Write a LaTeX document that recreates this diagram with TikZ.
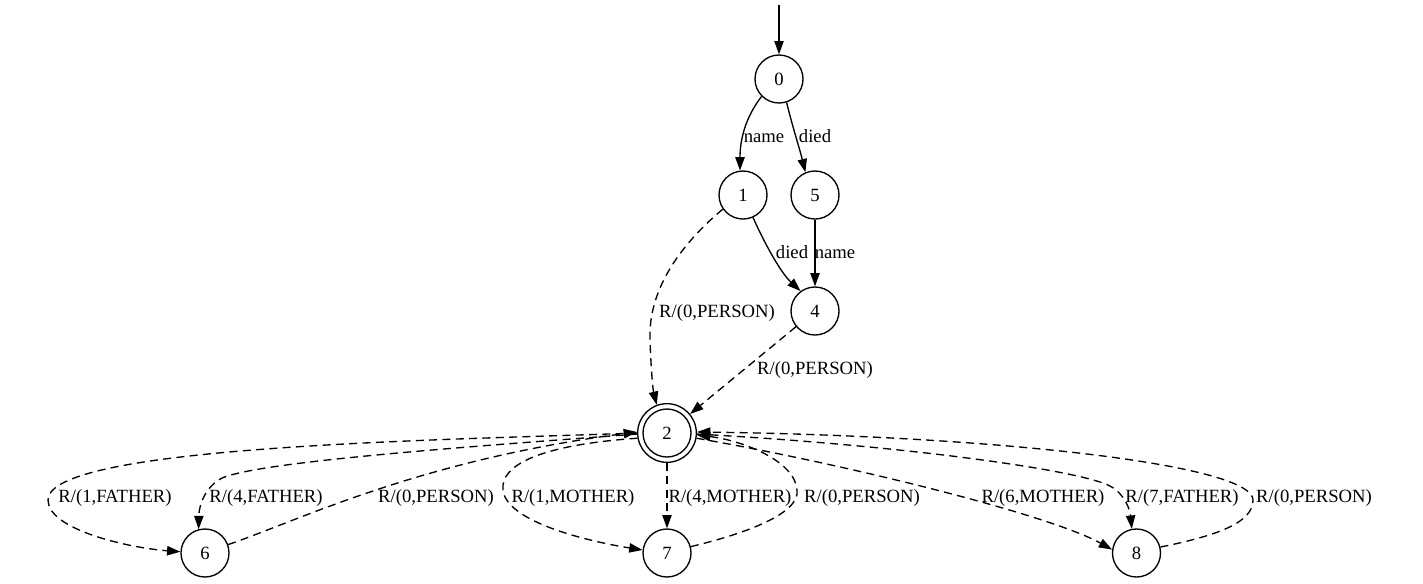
\documentclass[tikz,border=0pt]{standalone}
\usepackage{fontspec}
\setmainfont{Liberation Serif}
\usetikzlibrary{arrows.meta}
\begin{document}
\begin{tikzpicture}[x=0.75pt,y=-0.75pt,
  state/.style={circle,draw,line width=1pt,minimum size=36pt,inner sep=0pt,font=\fontsize{14pt}{16pt}\selectfont},
  accst/.style={state,minimum size=44pt},
  edge/.style={line width=1pt,-{Triangle[length=10pt,width=7pt]}},
  dedge/.style={edge,dash pattern=on 6pt off 4pt},
  lab/.style={inner sep=0pt,anchor=base,font=\fontsize{14pt}{16pt}\selectfont}]
\useasboundingbox (0,0) rectangle (1423,583);
% states
\node[state] (n0) at (779,79) {0};
\node[state] (n1) at (743,195) {1};
\node[state] (n5) at (815,195) {5};
\node[state] (n4) at (815,311) {4};
\node[accst] (n2) at (667,433) {2};
\draw[line width=1pt] (n2.center) circle[radius=18pt];
\node[state] (n6) at (205,553) {6};
\node[state] (n7) at (667,553) {7};
\node[state] (n8) at (1136.5,553) {8};
\coordinate (s) at (779,5);
% solid edges
\draw[edge] (s) -- (n0);
\draw[edge] (n0.225) .. controls (745,118) and (740,140) .. (n1.97);
\draw[edge] (n0.288) .. controls (792,125) and (800,150) .. (n5.113);
\draw[edge] (n1.294) .. controls (763,240) and (780,272) .. (n4.126);
\draw[edge] (n5) -- (n4);
% dashed edges
\draw[dedge] (n1.215) .. controls (680,245) and (648,290) .. (650,340) .. controls (651,370) and (653,390) .. (n2.110);
\draw[dedge] (n4) -- (n2);
\draw[dedge] (n2.180) .. controls (450,440) and (48,445) .. (48,500) .. controls (48,530) and (130,548) .. (n6.177);
\draw[dedge] (n2.182) .. controls (450,448) and (260,462) .. (222,478) .. controls (205,487) and (199,505) .. (n6.105);
\draw[dedge] (n6.20) .. controls (300,520) and (420,460) .. (n2.178);
\draw[dedge] (n2.190) .. controls (540,445) and (500,465) .. (503,490) .. controls (506,520) and (580,540) .. (n7.173);
\draw[dedge] (n2) -- (n7);
\draw[dedge] (n7.15) .. controls (760,530) and (800,510) .. (797,490) .. controls (795,460) and (740,440) .. (n2.356);
\draw[dedge] (n2.350) .. controls (850,465) and (1050,515) .. (n8.172);
\draw[dedge] (n2.358) .. controls (900,445) and (1080,470) .. (1110,486) .. controls (1125,494) and (1130,510) .. (n8.101);
\draw[dedge] (n8.14) .. controls (1220,535) and (1253,522) .. (1253,500) .. controls (1253,465) and (1000,436) .. (n2.2);
% labels
\node[lab] (l01) at (764,142) {name};
\node[lab] (l05) at (815,142) {died};
\node[lab] (l14) at (792,258) {died};
\node[lab] (l54) at (835,258) {name};
\node[lab] (l12) at (717,317) {R/(0,PERSON)};
\node[lab] (l42) at (815,374) {R/(0,PERSON)};
\node[lab] (la) at (115,502) {R/(1,FATHER)};
\node[lab] (lb) at (266,502) {R/(4,FATHER)};
\node[lab] (lc) at (436,502) {R/(0,PERSON)};
\node[lab] (ld) at (573,502) {R/(1,MOTHER)};
\node[lab] (le) at (730,502) {R/(4,MOTHER)};
\node[lab] (lf) at (862,502) {R/(0,PERSON)};
\node[lab] (lg) at (1043,502) {R/(6,MOTHER)};
\node[lab] (lh) at (1182,502) {R/(7,FATHER)};
\node[lab] (li) at (1314,502) {R/(0,PERSON)};
\end{tikzpicture}
\end{document}
